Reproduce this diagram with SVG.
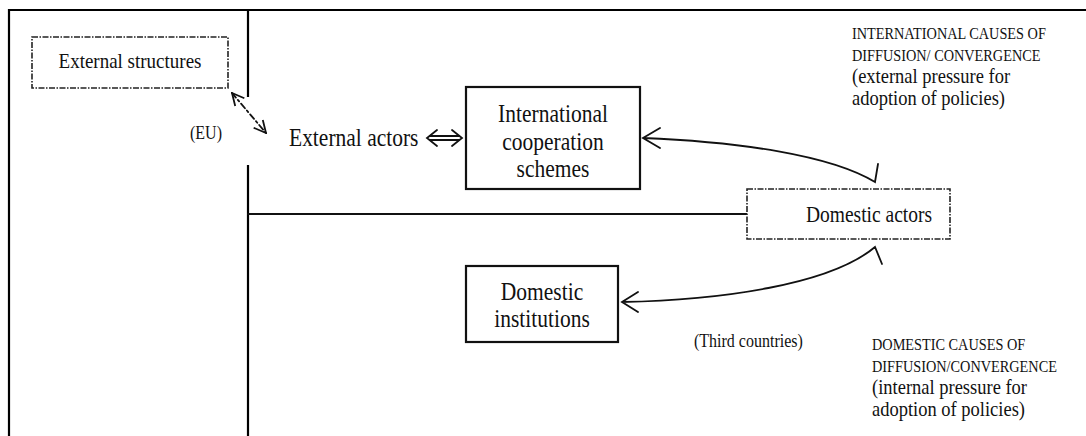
<svg xmlns="http://www.w3.org/2000/svg" width="1086" height="436" viewBox="0 0 1086 436">
<style>
text{font-family:"Liberation Serif","Times New Roman",serif;fill:#111}
.n{font-size:21.5px;text-anchor:middle}
.s{font-size:16px}
.c{font-size:14.3px}
.l{font-size:18.5px}
.frame{stroke:#000;stroke-width:2.2;fill:none}
.box{fill:#fff;stroke:#111;stroke-width:2.2}
.dbox{fill:#fff;stroke:#222;stroke-width:1.6;stroke-dasharray:6 1.5 1.5 1.5}
.con{fill:none;stroke:#111;stroke-width:1.8;stroke-linecap:round;stroke-linejoin:miter}
</style>
<defs>
<marker id="oa" viewBox="0 0 14 14" refX="13" refY="7" markerWidth="14" markerHeight="14" markerUnits="userSpaceOnUse" orient="auto-start-reverse">
<path d="M1,1 L13,7 L1,13" fill="none" stroke="#111" stroke-width="1.8"/>
</marker>
</defs>
<rect width="1086" height="436" fill="#fff"/>
<g id="frame">
<path class="frame" d="M9,436 V10 H1086"/>
<path class="frame" d="M248,10 V97 M248,165 V436"/>
</g>
<g id="connectors">
<path class="con" d="M248,214 H747" stroke-width="1.6"/>
<path class="con" d="M232,93 L266,133" stroke-dasharray="6 3 2 3" marker-start="url(#oa)" marker-end="url(#oa)"/>
<path class="con" d="M437,130 L427,138 L437,146 M452,130 L462,138 L452,146 M430,136 H459 M430,140 H459" stroke-width="1.5"/>
<path class="con" d="M643,138 C740,142 830,155 875,182 L878,164 M660,128 L643,138 L660,148"/>
<path class="con" d="M622,302 C720,300 830,285 875,247 L882,264 M638,292 L622,302 L638,312"/>
</g>
<g id="external-structures">
<rect class="dbox" x="32" y="37" width="196" height="51"/>
<text class="n" style="font-size:19px" transform="translate(130,68) scale(1,1.15)">External structures</text>
</g>
<g id="eu-label">
<text class="s" transform="translate(190,139) scale(1,1.15)">(EU)</text>
</g>
<g id="external-actors">
<text class="n" style="text-anchor:start" transform="translate(289,146) scale(1,1.15)">External actors</text>
</g>
<g id="international-cooperation-schemes">
<rect class="box" x="466" y="87" width="174" height="102"/>
<text class="n" transform="translate(553,122) scale(1,1.15)">International</text>
<text class="n" transform="translate(553,150) scale(1,1.15)">cooperation</text>
<text class="n" transform="translate(553,177) scale(1,1.15)">schemes</text>
</g>
<g id="domestic-actors">
<rect class="dbox" x="747" y="189" width="203" height="50"/>
<text class="n" style="font-size:19.5px;text-anchor:start" transform="translate(806,222) scale(1,1.15)">Domestic actors</text>
</g>
<g id="domestic-institutions">
<rect class="box" x="466" y="266" width="152" height="76"/>
<text class="n" transform="translate(542,300) scale(1,1.15)">Domestic</text>
<text class="n" transform="translate(542,327) scale(1,1.15)">institutions</text>
</g>
<g id="third-countries">
<text class="s" transform="translate(694,347) scale(1,1.15)">(Third countries)</text>
</g>
<g id="international-causes">
<text class="c" transform="translate(852,39) scale(1,1.15)">INTERNATIONAL CAUSES OF</text>
<text class="c" transform="translate(852,61) scale(1,1.15)">DIFFUSION/ CONVERGENCE</text>
<text class="l" transform="translate(852,83) scale(1,1.15)">(external pressure for</text>
<text class="l" transform="translate(852,105) scale(1,1.15)">adoption of policies)</text>
</g>
<g id="domestic-causes">
<text class="c" transform="translate(872,350) scale(1,1.15)">DOMESTIC CAUSES OF</text>
<text class="c" transform="translate(872,372) scale(1,1.15)">DIFFUSION/CONVERGENCE</text>
<text class="l" transform="translate(872,394) scale(1,1.15)">(internal pressure for</text>
<text class="l" transform="translate(872,416) scale(1,1.15)">adoption of policies)</text>
</g>
</svg>
